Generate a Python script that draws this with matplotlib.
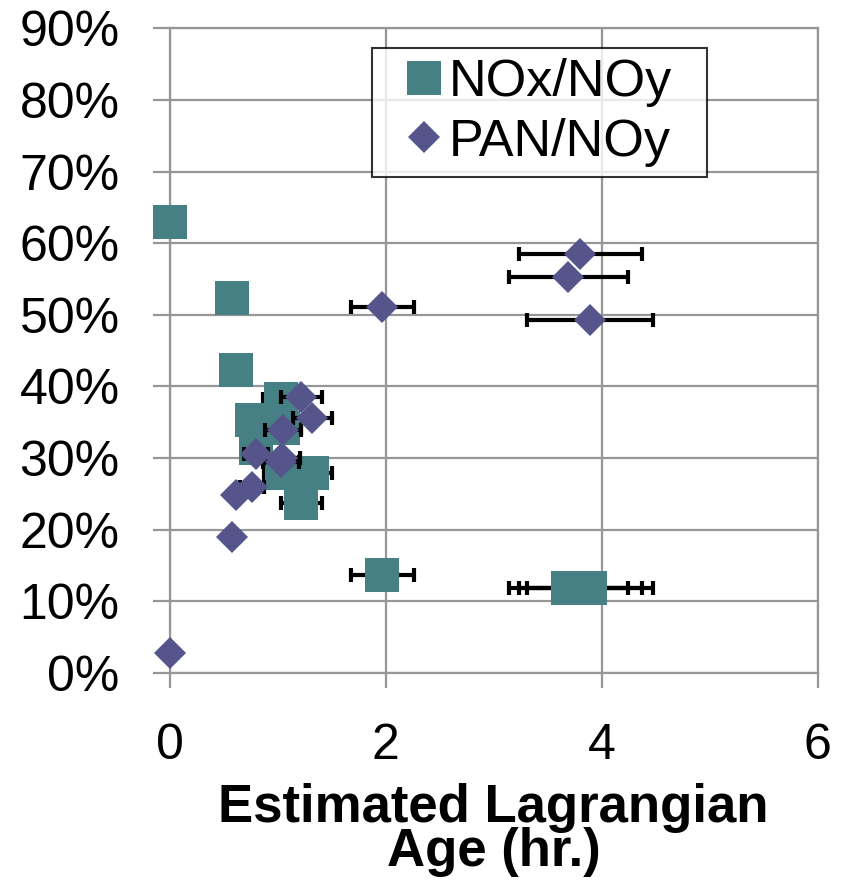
import matplotlib
matplotlib.use("Agg")
import matplotlib.pyplot as plt
from matplotlib.ticker import PercentFormatter
from matplotlib.lines import Line2D

plt.rcParams["font.family"] = ["Liberation Sans", "DejaVu Sans"]

# Estimated Lagrangian age (hr.) and its uncertainty, one entry per sample
age = [0.00, 0.58, 0.61, 0.76, 0.80, 1.03, 1.04, 1.05, 1.22, 1.32, 1.97, 3.69, 3.80, 3.89]
age_err = [0, 0, 0, 0.11, 0.11, 0.17, 0.17, 0.17, 0.19, 0.18, 0.29, 0.55, 0.57, 0.58]
# ratios (fraction of NOy)
nox_noy = [0.629, 0.524, 0.423, 0.353, 0.314, 0.383, 0.279, 0.342, 0.237, 0.279,
           0.137, 0.118, 0.118, 0.118]
pan_noy = [0.028, 0.190, 0.249, 0.259, 0.306, 0.295, 0.300, 0.339, 0.386, 0.356,
           0.511, 0.553, 0.585, 0.493]

nox_color = "#468084"
pan_color = "#55548B"
grid_color = "#969696"

fig = plt.figure(figsize=(8.44, 8.88), dpi=100)
ax = fig.add_axes([0.201, 0.2422, 0.768, 0.7258])

ebar = dict(fmt="none", ecolor="black", elinewidth=3.0, capsize=5, capthick=3.0)

ax.errorbar(age, nox_noy, xerr=age_err, zorder=2, **ebar)
ax.plot(age, nox_noy, "s", color=nox_color, markersize=24, markeredgewidth=0,
        zorder=3, clip_on=False)
ax.errorbar(age, pan_noy, xerr=age_err, zorder=4, **ebar)
ax.plot(age, pan_noy, "D", color=pan_color, markersize=16.5, markeredgewidth=0,
        zorder=5, clip_on=False)

ax.set_xlim(0, 6)
ax.set_ylim(0, 0.9)
ax.set_xticks([0, 2, 4, 6])
ax.set_yticks([i / 10 for i in range(10)])
ax.yaxis.set_major_formatter(PercentFormatter(1.0, decimals=0))

ax.grid(True, color=grid_color, linewidth=1.6)
ax.set_axisbelow(True)
for side in ax.spines.values():
    side.set_color(grid_color)
    side.set_linewidth(1.6)

ax.tick_params(axis="both", labelsize=36, color=grid_color, width=1.6)
ax.tick_params(axis="y", length=12, pad=24)
ax.tick_params(axis="x", length=11, pad=25)

ax.set_xlabel("Estimated Lagrangian\nAge (hr.)", fontsize=38, fontweight="bold",
              linespacing=0.84, labelpad=10)

handles = [
    Line2D([], [], marker="s", linestyle="none", color=nox_color, markersize=24,
           markeredgewidth=0),
    Line2D([], [], marker="D", linestyle="none", color=pan_color, markersize=16.5,
           markeredgewidth=0),
]
leg = ax.legend(handles, ["NOx/NOy", "PAN/NOy"], fontsize=37.5, loc="upper left",
                bbox_to_anchor=(0.312, 0.97, 0.517, 0), mode="expand",
                frameon=True, fancybox=False, edgecolor="black", borderpad=0.2,
                handletextpad=-0.32, labelspacing=0.2, handlelength=1.6,
                borderaxespad=0)
leg.get_frame().set_linewidth(1.5)

fig.savefig("out.png", dpi=100, facecolor="white")
